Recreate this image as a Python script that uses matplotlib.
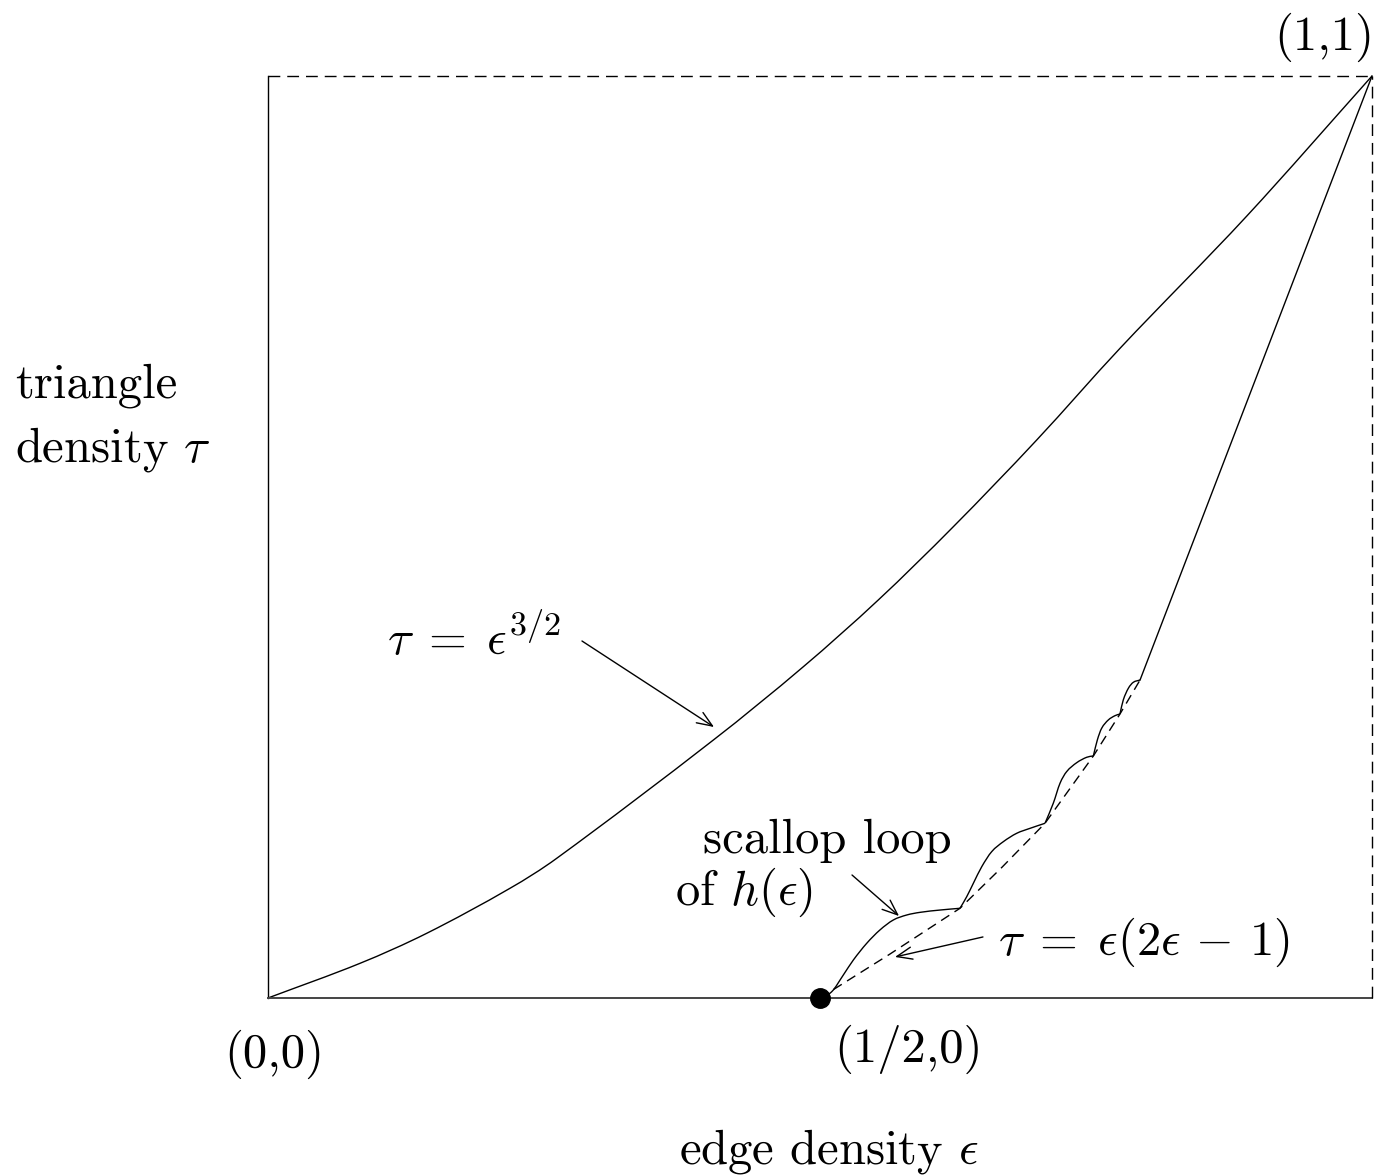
import matplotlib
matplotlib.use("Agg")
import matplotlib.pyplot as plt
from matplotlib.path import Path
from matplotlib.patches import PathPatch

plt.rcParams['font.family'] = ['cmr10', 'DejaVu Serif']
plt.rcParams['mathtext.fontset'] = 'cm'
plt.rcParams['axes.formatter.use_mathtext'] = True

# Upper boundary tau = eps^{3/2}
upper_x = [0.0, 0.0833, 0.1438, 0.2192, 0.2615, 0.4034, 0.4849,
           0.5528, 0.6208, 0.6963, 0.7717, 0.8865, 1.0]
upper_y = [0.0, 0.0376, 0.0702, 0.1190, 0.1515, 0.2798, 0.3593,
           0.4317, 0.5112, 0.6052, 0.7046, 0.8480, 1.0]

# Scallop loops of h(eps), one list per loop
scallop1_x = [0.5, 0.5106, 0.5211, 0.5302, 0.5423, 0.5543, 0.5664, 0.5785, 0.5906, 0.6087, 0.6268]
scallop1_y = [0.0, 0.0068, 0.0249, 0.0412, 0.0593, 0.0738, 0.0846, 0.0900, 0.0929, 0.0954, 0.0973]
scallop2_x = [0.6268, 0.6329, 0.6389, 0.6465, 0.6555, 0.6660, 0.6781, 0.6902, 0.7038]
scallop2_y = [0.0973, 0.1099, 0.1244, 0.1424, 0.1587, 0.1695, 0.1786, 0.1840, 0.1895]
scallop3_x = [0.7038, 0.7113, 0.7174, 0.7234, 0.7325, 0.7416, 0.7476]
scallop3_y = [0.1895, 0.2112, 0.2329, 0.2455, 0.2552, 0.2611, 0.2625]
scallop4_x = [0.7476, 0.7512, 0.7551, 0.7611, 0.7672, 0.7717]
scallop4_y = [0.2625, 0.2798, 0.2925, 0.3015, 0.3062, 0.3080]
scallop5_x = [0.7717, 0.7747, 0.7793, 0.7838, 0.7899]
scallop5_y = [0.3080, 0.3232, 0.3359, 0.3424, 0.3449]
# straight part of the lower boundary up to (1,1)
tail_x = [0.7899, 1.0]
tail_y = [0.3449, 1.0]

# Dashed lower curve tau = eps(2eps-1)
para_x = [0.5, 0.5625, 0.6268, 0.6650, 0.7038, 0.7476, 0.7717, 0.7899]
para_y = [0.0, 0.0470, 0.0973, 0.1420, 0.1895, 0.2625, 0.3080, 0.3449]


def smooth_path(xs, ys):
    """Smooth curve through the given points (cubic Hermite in x drawn as Bezier)."""
    n = len(xs)
    slopes = []
    for i in range(n):
        a = max(i - 1, 0)
        b = min(i + 1, n - 1)
        slopes.append((ys[b] - ys[a]) / (xs[b] - xs[a]))
    verts = [(xs[0], ys[0])]
    codes = [Path.MOVETO]
    for i in range(n - 1):
        h = xs[i + 1] - xs[i]
        c1 = (xs[i] + h / 3.0, ys[i] + slopes[i] * h / 3.0)
        c2 = (xs[i + 1] - h / 3.0, ys[i + 1] - slopes[i + 1] * h / 3.0)
        verts += [c1, c2, (xs[i + 1], ys[i + 1])]
        codes += [Path.CURVE4] * 3
    return Path(verts, codes)


fig = plt.figure(figsize=(13.78, 11.76), dpi=100)
ax = fig.add_axes([268/1378, 1 - 998/1176, 1104/1378, 922/1176])
ax.set_xlim(0, 1)
ax.set_ylim(0, 1)
ax.axis('off')

lw = 1.0
# frame
ax.plot([0, 0], [0, 1], color='black', lw=lw, clip_on=False)
ax.plot([0, 1], [0, 0], color='#444444', lw=1.4, clip_on=False)
ax.plot([0, 1], [1, 1], color='black', lw=lw, dashes=(8.5, 5), clip_on=False)
ax.plot([1, 1], [0, 1], color='black', lw=lw, dashes=(8.5, 5), clip_on=False)

for xs, ys in [(upper_x, upper_y), (scallop1_x, scallop1_y), (scallop2_x, scallop2_y),
               (scallop3_x, scallop3_y), (scallop4_x, scallop4_y), (scallop5_x, scallop5_y)]:
    ax.add_patch(PathPatch(smooth_path(xs, ys), facecolor='none', edgecolor='black',
                           lw=lw, clip_on=False))
ax.plot(tail_x, tail_y, color='black', lw=lw, clip_on=False)
ax.plot(para_x, para_y, color='black', lw=lw, dashes=(7, 4.5), clip_on=False)
ax.plot([0.5], [0.0], 'o', color='black', ms=14, clip_on=False, zorder=5)

fs = 35
ax.text(-0.2292, 0.6508, 'triangle', fontsize=fs, ha='left', va='baseline')
ax.text(-0.2292, 0.5824, r'density $\tau$', fontsize=fs, ha='left', va='baseline')
ax.text(0.9565, 1.0282, '(1,1)', fontsize=fs, ha='center', va='baseline')
ax.text(0.0054, -0.0750, '(0,0)', fontsize=fs, ha='center', va='baseline')
ax.text(0.5806, -0.0695, '(1/2,0)', fontsize=fs, ha='center', va='baseline')
ax.text(0.5082, -0.1790, r'edge density $\epsilon$', fontsize=fs, ha='center', va='baseline')
ax.text(0.1078, 0.3720, r'$\tau\;=\;\epsilon^{3/2}$', fontsize=fs, ha='left', va='baseline')
ax.text(0.3940, 0.1570, 'scallop loop', fontsize=fs, ha='left', va='baseline')
ax.text(0.3687, 0.1010, r'of $h(\epsilon)$', fontsize=fs, ha='left', va='baseline')
ax.text(0.6612, 0.0466, r'$\tau\;=\;\epsilon(2\epsilon\,-\,1)$', fontsize=fs, ha='left', va='baseline')

arrow = dict(arrowstyle='->,head_length=0.55,head_width=0.22', lw=lw, color='black',
             shrinkA=0, shrinkB=0, mutation_scale=20)
ax.annotate('', xy=(0.4040, 0.2939), xytext=(0.2844, 0.3872), arrowprops=arrow)
ax.annotate('', xy=(0.5716, 0.0889), xytext=(0.5290, 0.1334), arrowprops=arrow)
ax.annotate('', xy=(0.5679, 0.0445), xytext=(0.6476, 0.0662), arrowprops=arrow)

fig.savefig('out.png', dpi=100)
